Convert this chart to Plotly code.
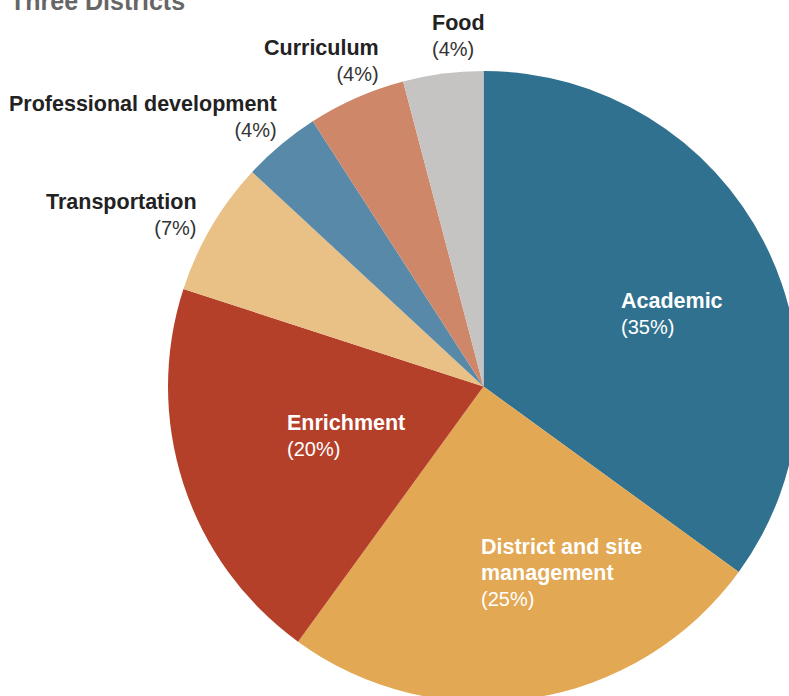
import plotly.graph_objects as go

# ---- data ----
categories = ["Academic", "District and site management", "Enrichment",
              "Transportation", "Professional development", "Curriculum", "Food"]
shares = [35.0, 25.0, 20.0, 6.9, 4.0, 5.0, 4.1]
pct_labels = ["35%", "25%", "20%", "7%", "4%", "4%", "4%"]
title_text = "Three Districts"

# ---- style ----
colors = ["#30718f", "#e2a853", "#b5402a", "#e9c085", "#5889a8", "#cf876a", "#c5c4c3"]
W, H = 810, 720
label_layout = [
    (619, 313.5, "left", True, "Academic"),
    (479, 572, "left", True, "District and site<br>management"),
    (285, 436, "left", True, "Enrichment"),
    (199, 214.5, "right", False, "Transportation"),
    (279, 116.5, "right", False, "Professional development"),
    (381, 60.5, "right", False, "Curriculum"),
    (430, 35, "left", False, "Food"),
]

def px(x, y):
    return x / W, 1 - y / H

cx0, cy0 = 168, 71
cx1, cy1 = 799, 702
fig = go.Figure(go.Pie(
    labels=categories,
    values=shares,
    sort=False,
    direction="clockwise",
    rotation=0,
    textinfo="none",
    hoverinfo="label+percent",
    marker=dict(colors=colors, line=dict(width=0)),
    showlegend=False,
    domain=dict(x=[cx0 / W, cx1 / W], y=[1 - cy1 / H, 1 - cy0 / H]),
))

font_family = "Liberation Sans, Arial, sans-serif"
annotations = []
for (x, y, anchor, inside, name), pct in zip(label_layout, pct_labels):
    ax, ay = px(x, y)
    if inside:
        name_html = "<br>".join(f"<b><span style='font-size:21.5px'>{p}</span></b>"
                                for p in name.split("<br>"))
        txt = f"{name_html}<br>({pct})"
        col = "#ffffff"
    else:
        txt = (f"<b><span style='color:#222222;font-size:21.5px'>{name}</span></b>"
               f"<br>({pct})")
        col = "#333333"
    annotations.append(dict(
        x=ax, y=ay, xref="paper", yref="paper", text=txt, showarrow=False,
        xanchor=anchor, yanchor="middle", align=anchor,
        font=dict(family=font_family, size=20, color=col),
    ))

tx, ty = px(8, 1)
annotations.append(dict(
    x=tx, y=ty, xref="paper", yref="paper", text=f"<b>{title_text}</b>",
    showarrow=False, xanchor="left", yanchor="middle", align="left",
    font=dict(family=font_family, size=25, color="#666666"),
))

fig.update_layout(
    width=W, height=H,
    margin=dict(l=0, r=0, t=0, b=0),
    paper_bgcolor="white", plot_bgcolor="white",
    annotations=annotations,
)

fig.write_html(
    "out.html",
    post_script=("document.documentElement.style.overflow='hidden';"
                 "document.body.style.overflow='hidden';"
                 "document.body.style.margin='0';"),
)
